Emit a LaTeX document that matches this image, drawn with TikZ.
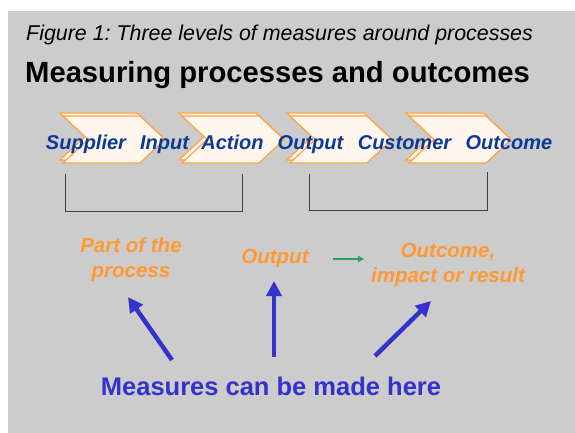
\documentclass[tikz,border=0pt]{standalone}
\usepackage{fontspec}
\setmainfont{Liberation Sans}
\usepackage{xcolor}
\usetikzlibrary{arrows.meta}
\frenchspacing

\definecolor{panel}{HTML}{CCCCCC}
\definecolor{stepblue}{HTML}{0A3A96}
\definecolor{labelorange}{HTML}{FF9933}
\definecolor{measureblue}{HTML}{3333CC}
\definecolor{linkgreen}{HTML}{339966}
\definecolor{chevfill}{HTML}{FFF7EE}
\definecolor{chevedge}{HTML}{FFA445}

\begin{document}
\begin{tikzpicture}[x=1pt,y=-1pt,
    chev/.style={fill=chevfill, draw=chevedge, line width=1.2pt},
    stepword/.style={font=\fontsize{20}{20}\selectfont\bfseries\itshape, text=stepblue, anchor=base, inner sep=0pt},
    levellabel/.style={font=\fontsize{20.5}{24.5}\selectfont\bfseries\itshape, text=labelorange, align=center, anchor=base, inner sep=0pt},
    bracket/.style={draw=black!75, line width=0.9pt},
    measurearrow/.style={draw=measureblue, line width=4.5pt, -{Triangle[length=15pt,width=15pt]}},
    linkarrow/.style={draw=linkgreen, line width=1.6pt, -{Triangle[length=6pt,width=6pt]}}]

    % Rahmen
    \useasboundingbox (0,0) rectangle (575,433);
    \fill[panel] (8,11) rectangle (575,433);

    % Titel
    \node[anchor=base west, inner sep=0pt, font=\fontsize{21.4}{21.4}\selectfont\itshape] (caption) at (26,41)
      {Figure 1: Three levels of measures around processes};
    \node[anchor=base west, inner sep=0pt, font=\fontsize{29.2}{29.2}\selectfont\bfseries] (title) at (25,83)
      {Measuring processes and outcomes};

    % Pfeilformen
    \foreach \cx in {63,182,290,409} {
      \filldraw[chev] (\cx-3,113) -- ++(77,0) -- ++(25,23.5) -- ++(-25,23.5) -- ++(-77,0) -- ++(25,-23.5) -- cycle;
      \filldraw[chev] (\cx,116) -- ++(77,0) -- ++(25,23.5) -- ++(-25,23.5) -- ++(-77,0) -- ++(25,-23.5) -- cycle;
    }

    % Schritte
    \node[stepword] (supplier) at (86,149) {Supplier};
    \node[stepword] (input) at (164.5,149) {Input};
    \node[stepword] (action) at (232.5,149) {Action};
    \node[stepword] (output) at (310.5,149) {Output};
    \node[stepword] (customer) at (404.5,149) {Customer};
    \node[stepword] (outcome) at (509,149) {Outcome};

    % Klammern
    \coordinate (procL) at (65,174);
    \coordinate (procR) at (242,174);
    \coordinate (resL) at (309,174);
    \coordinate (resR) at (487,172);
    \draw[bracket] (procL) |- (procR |- 0,211) -- (procR);
    \draw[bracket] (resL) |- (resR |- 0,210) -- (resR);

    % Ebenen
    \node[levellabel] (partlbl) at (131,277) {Part of the\\process};
    \node[levellabel] (outputlbl) at (275,263) {Output};
    \node[levellabel] (outcomelbl) at (448,282) {Outcome,\\impact or result};

    \coordinate (linkA) at (333,259);
    \coordinate (linkB) at (364,259);
    \draw[linkarrow] (linkA) -- (linkB);

    % Messpunkte
    \node[anchor=base, inner sep=0pt, text=measureblue, font=\fontsize{25.5}{25.5}\selectfont\bfseries] (measures) at (271,395)
      {Measures can be made here};

    \coordinate (tailA) at (172,360);
    \coordinate (tipA) at (128,297);
    \coordinate (tailB) at (274,357);
    \coordinate (tipB) at (274,281);
    \coordinate (tailC) at (375,356);
    \coordinate (tipC) at (431,301);
    \draw[measurearrow] (tailA) -- (tipA);
    \draw[measurearrow] (tailB) -- (tipB);
    \draw[measurearrow] (tailC) -- (tipC);
\end{tikzpicture}
\end{document}
